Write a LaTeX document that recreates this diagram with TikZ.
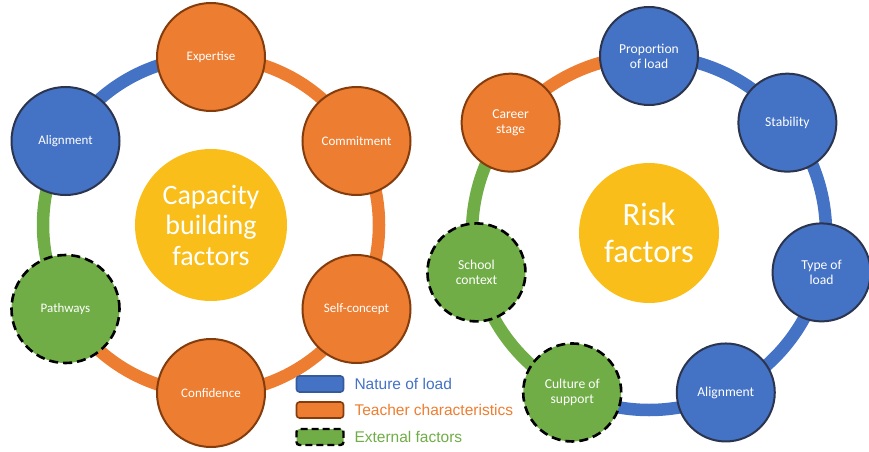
\documentclass[tikz,border=0pt]{standalone}
\usepackage{fontspec}
\setmainfont{Carlito}
\newfontfamily\legendfont{Liberation Sans}
\usetikzlibrary{calc}
\definecolor{loadblue}{HTML}{4472C4}
\definecolor{teachorange}{HTML}{ED7D31}
\definecolor{extgreen}{HTML}{70AD47}
\definecolor{coreyellow}{HTML}{F9BE1A}
\definecolor{blueedge}{HTML}{2B3550}
\definecolor{orangeedge}{HTML}{843C0C}
\begin{document}
\begin{tikzpicture}[x=1pt,y=1pt,
  factor/.style={circle,minimum size=#1,inner sep=0pt,line width=2pt,
    text=white,font=\fontsize{13}{15}\selectfont,align=center},
  loadnode/.style={factor=#1,fill=loadblue,draw=blueedge},
  teachnode/.style={factor=#1,fill=teachorange,draw=orangeedge},
  extnode/.style={factor=#1,fill=extgreen,draw=black,line width=2.6pt,
    dash pattern=on 9pt off 5pt},
  bigger/.style={font=\fontsize{13.6}{15}\selectfont},
  core/.style={circle,fill=coreyellow,inner sep=0pt,text=white,align=center},
  ring/.style={line width=12.5pt},
  legbox/.style={rounded corners=3pt,minimum width=47pt,minimum height=16pt,inner sep=0pt,line width=1.6pt},
  legtext/.style={anchor=west,font=\legendfont\fontsize{15.5}{17}\selectfont}]
\useasboundingbox (0,0) rectangle (869,451);

% ---------- capacity building factors ----------
\coordinate (lc) at (211,226);
\def\lr{168}
\draw[ring,loadblue]    (lc) ++(150:\lr) arc[start angle=150,end angle=90,radius=\lr];
\draw[ring,teachorange] (lc) ++(90:\lr)  arc[start angle=90,end angle=-150,radius=\lr];
\draw[ring,extgreen]    (lc) ++(150:\lr) arc[start angle=150,end angle=210,radius=\lr];

\node[teachnode=108pt] (expertise)  at ($(lc)+(90:\lr)$)  {Expertise};
\node[teachnode=108pt] (commitment) at ($(lc)+(30:\lr)$)  {Commitment};
\node[teachnode=108pt] (selfconcept) at ($(lc)+(-30:\lr)$) {Self-concept};
\node[teachnode=108pt] (confidence) at ($(lc)+(-90:\lr)$) {Confidence};
\node[extnode=108pt]   (pathways)   at ($(lc)+(-150:\lr)$) {Pathways};
\node[loadnode=108pt]  (alignL)     at ($(lc)+(150:\lr)$) {Alignment};

\node[core,minimum size=152pt,font=\fontsize{28}{30.5}\selectfont] (capacity) at (lc) {Capacity\\building\\factors};

% ---------- risk factors ----------
\coordinate (rc) at (649,218);
\def\rr{177}
\draw[ring,teachorange] (rc) ++(141.43:\rr) arc[start angle=141.43,end angle=90,radius=\rr];
\draw[ring,loadblue]    (rc) ++(90:\rr) arc[start angle=90,end angle=-115.71,radius=\rr];
\draw[ring,extgreen]    (rc) ++(-115.71:\rr) arc[start angle=-115.71,end angle=-218.57,radius=\rr];

\node[loadnode=98pt,bigger]  (proportion) at ($(rc)+(90:\rr)$)      {Proportion\\of load};
\node[loadnode=98pt,bigger]  (stability)  at ($(rc)+(38.57:\rr)$)   {Stability};
\node[loadnode=98pt,bigger]  (typeload)   at ($(rc)+(-12.86:\rr)$)  {Type of\\load};
\node[loadnode=98pt,bigger]  (alignR)     at ($(rc)+(-64.29:\rr)$)  {Alignment};
\node[extnode=98pt,bigger]   (culture)    at ($(rc)+(-115.71:\rr)$) {Culture of\\support};
\node[extnode=98pt,bigger]   (school)     at ($(rc)+(-167.14:\rr)$) {School\\context};
\node[teachnode=98pt,bigger] (career)     at ($(rc)+(141.43:\rr)$)  {Career\\stage};

\node[core,minimum size=140pt,font=\fontsize{32.5}{37}\selectfont] (risk) at (rc) {Risk\\factors};

% ---------- legend ----------
\node[legbox,fill=loadblue,draw=loadblue!80!black] (kload) at (320,67) {};
\node[legbox,fill=teachorange,draw=orangeedge] (kteach) at (320,41) {};
\node[legbox,fill=extgreen,draw=black,line width=2.4pt,dash pattern=on 7pt off 4pt] (kext) at (320,14) {};
\node[legtext,text=loadblue]    at (351,67) {Nature of load};
\node[legtext,text=teachorange] at (351,41) {Teacher characteristics};
\node[legtext,text=extgreen]    at (351,14) {External factors};
\end{tikzpicture}
\end{document}
